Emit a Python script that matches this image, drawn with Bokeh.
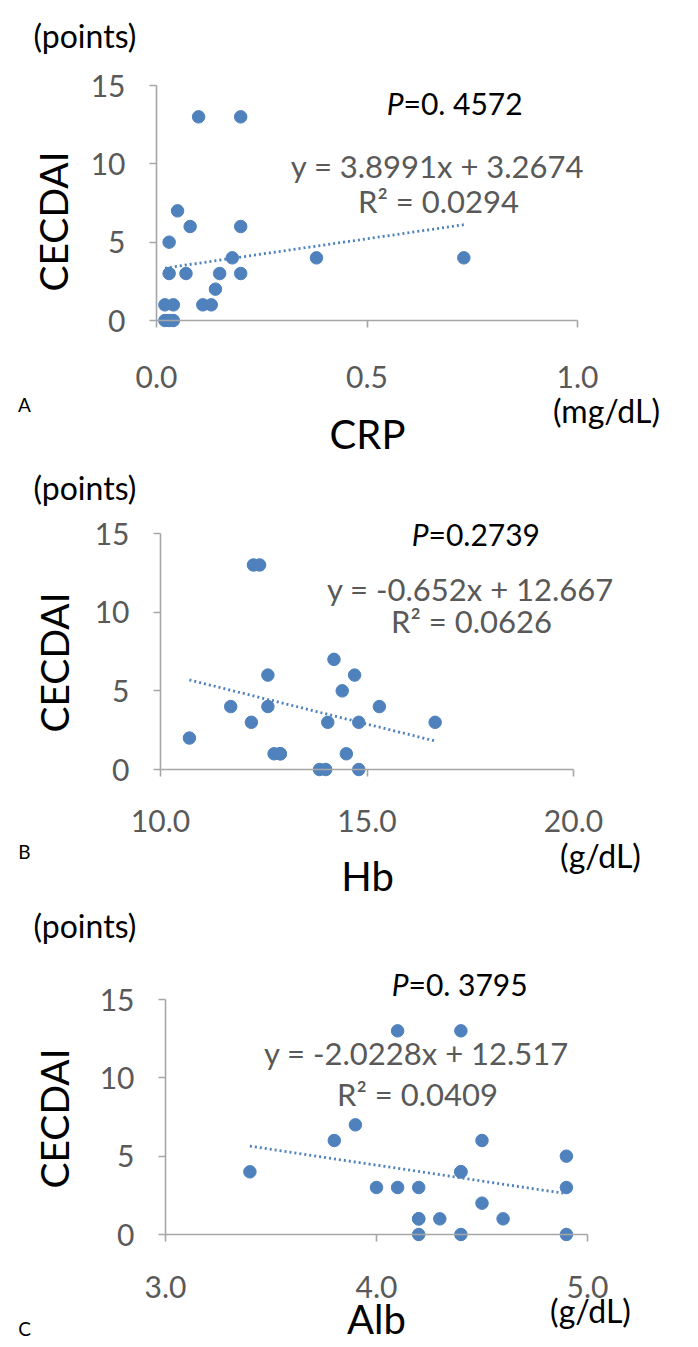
from bokeh.plotting import figure
from bokeh.models import Range1d, FixedTicker, Label, ColumnDataSource, LinearAxis
from bokeh.embed import file_html
from bokeh.resources import INLINE

# ---------------- data ----------------
crp = [0.10, 0.20, 0.05, 0.08, 0.20, 0.03, 0.18, 0.38, 0.73, 0.03, 0.07,
       0.15, 0.20, 0.14, 0.11, 0.13, 0.02, 0.04, 0.02, 0.04, 0.03]
cecdai_a = [13, 13, 7, 6, 6, 5, 4, 4, 4, 3, 3, 3, 3, 2, 1, 1, 1, 1, 0, 0, 0]

hb = [12.25, 12.4, 14.2, 12.6, 14.7, 14.4, 11.7, 12.6, 15.3, 12.2, 14.05,
      14.8, 16.65, 10.7, 12.75, 12.9, 12.9, 14.5, 13.85, 14.0, 14.8]
cecdai_b = [13, 13, 7, 6, 6, 5, 4, 4, 4, 3, 3, 3, 3, 2, 1, 1, 1, 1, 0, 0, 0]

alb = [4.1, 4.4, 3.9, 3.8, 4.5, 4.9, 3.4, 4.4, 4.4, 4.0, 4.1, 4.2, 4.9,
       4.5, 4.2, 4.2, 4.3, 4.6, 4.2, 4.4, 4.9]
cecdai_c = [13, 13, 7, 6, 6, 5, 4, 4, 4, 3, 3, 3, 3, 2, 1, 1, 1, 1, 0, 0, 0]

trend_slope = [3.8991, -0.652, -2.0228]
trend_intercept = [3.2674, 12.667, 12.517]
eq_texts = ["y = 3.8991x + 3.2674", "y = -0.652x + 12.667", "y = -2.0228x + 12.517"]
r2_texts = ["R\u00b2 = 0.0294", "R\u00b2 = 0.0626", "R\u00b2 = 0.0409"]
p_texts = ["=0. 4572", "=0.2739", "=0. 3795"]
panel_letters = ["A", "B", "C"]
x_names = ["CRP", "Hb", "Alb"]
x_units = ["(mg/dL)", "(g/dL)", "(g/dL)"]
y_name = "CECDAI"
y_unit = "(points)"

y_ticks = [0, 5, 10, 15]
x_ticks = [[0.0, 0.5, 1.0], [10.0, 15.0, 20.0], [3.0, 4.0, 5.0]]
x_tick_labels = [["0.0", "0.5", "1.0"], ["10.0", "15.0", "20.0"], ["3.0", "4.0", "5.0"]]
x_ranges = [(0.0, 1.0), (10.0, 20.0), (3.0, 5.0)]
y_range = (0, 15)

FONT = "Lato"
BLUE = "#4F81BD"
GRAY_TXT = "#595959"
AXIS = "#A6A6A6"

# canvas spans screen x 0..696, y 0..1345
PX0, PX1, PY0, PY1 = 0, 696, 0, 1345
# plot area of each panel (screen px)
frames = [
    dict(L=156, R=577, T=85, B=320),
    dict(L=160, R=573, T=533, B=769),
    dict(L=165, R=587, T=999, B=1234),
]
# text placement (screen px)
txt = [
    dict(points=(33, 35), cec=(52, 221), P=(403, 102), eq=(437, 165), r2=(438, 200),
         letter=(24, 404), xname=(367, 433), unit=(606, 410), xlab=58),
    dict(points=(33, 487), cec=(53, 662), P=(428, 533), eq=(470, 588), r2=(471, 620),
         letter=(24, 851), xname=(367, 875), unit=(600, 855), xlab=53),
    dict(points=(33, 925), cec=(53, 1118), P=(408, 983), eq=(416, 1052), r2=(417, 1093),
         letter=(24, 1328), xname=(376, 1318), unit=(590, 1310), xlab=54),
]

p = figure(width=PX1 - PX0, height=PY1 - PY0, output_backend="svg", toolbar_location=None,
           x_range=Range1d(PX0, PX1), y_range=Range1d(PY1, PY0),
           x_axis_location=None, y_axis_location=None,
           min_border=0, min_border_left=0, min_border_right=0,
           min_border_top=0, min_border_bottom=0)
p.xgrid.visible = False
p.ygrid.visible = False
p.outline_line_color = None
p.background_fill_color = "white"
p.border_fill_color = "white"


def lab(pos, text, size, color="black", align="center", angle=0.0, style="normal"):
    p.add_layout(Label(x=pos[0], y=pos[1], text=text, text_font=FONT, text_font_size=size,
                       text_color=color, text_align=align, text_baseline="middle",
                       angle=angle, text_font_style=style))


xs_all = [crp, hb, alb]
ys_all = [cecdai_a, cecdai_b, cecdai_c]

for i in range(3):
    f = frames[i]
    x0, x1 = x_ranges[i]
    y0, y1 = y_range
    kx = (x1 - x0) / (f["R"] - f["L"])
    ky = (y1 - y0) / (f["B"] - f["T"])
    xr, yr = "x%d" % i, "y%d" % i
    p.extra_x_ranges[xr] = Range1d(x0 + (PX0 - f["L"]) * kx, x0 + (PX1 - f["L"]) * kx)
    p.extra_y_ranges[yr] = Range1d(y0 + (f["B"] - PY1) * ky, y0 + (f["B"] - PY0) * ky)

    yax = LinearAxis(x_range_name=xr, y_range_name=yr, fixed_location=x0,
                     bounds=(y0, y1), ticker=FixedTicker(ticks=y_ticks))
    xax = LinearAxis(x_range_name=xr, y_range_name=yr, fixed_location=y0,
                     bounds=(x0, x1), ticker=FixedTicker(ticks=x_ticks[i]))
    xax.major_label_overrides = {t: s for t, s in zip(x_ticks[i], x_tick_labels[i])}
    for ax in (xax, yax):
        ax.axis_line_color = AXIS
        ax.axis_line_width = 1.6
        ax.major_tick_line_color = AXIS
        ax.major_tick_line_width = 1.6
        ax.major_tick_out = 7
        ax.major_tick_in = 0
        ax.minor_tick_out = 0
        ax.minor_tick_in = 0
        ax.major_label_text_font = FONT
        ax.major_label_text_color = GRAY_TXT
    yax.major_label_text_font_size = "30px"
    yax.major_label_standoff = 24
    xax.major_label_text_font_size = "30px"
    xax.major_label_standoff = txt[i]["xlab"] - 7 - 13
    p.add_layout(yax, "left")
    p.add_layout(xax, "below")

    # Excel linear trendline over the data range
    xs = xs_all[i]
    tx = [min(xs), max(xs)]
    ty = [trend_slope[i] * v + trend_intercept[i] for v in tx]
    p.line(tx, ty, line_color=BLUE, line_width=2.8, line_dash="2 3",
           x_range_name=xr, y_range_name=yr)

    src = ColumnDataSource(dict(x=xs, y=ys_all[i]))
    p.scatter("x", "y", source=src, size=12.5, fill_color=BLUE, line_color=BLUE,
              x_range_name=xr, y_range_name=yr)

    t = txt[i]
    lab(t["points"], y_unit, "32px", "black", "left")
    lab(t["cec"], y_name, "39px", "black", "center", angle=1.5707963)
    lab(t["P"], "P", "30px", "black", "right", style="italic")
    lab(t["P"], p_texts[i], "30px", "black", "left")
    lab(t["eq"], eq_texts[i], "31px", GRAY_TXT, "center")
    lab(t["r2"], r2_texts[i], "31px", GRAY_TXT, "center")
    lab(t["letter"], panel_letters[i], "19px", "black", "center")
    lab(t["xname"], x_names[i], "40px", "black", "center")
    lab(t["unit"], x_units[i], "32px", "black", "center")

open("out.html", "w").write(file_html(p, INLINE))
